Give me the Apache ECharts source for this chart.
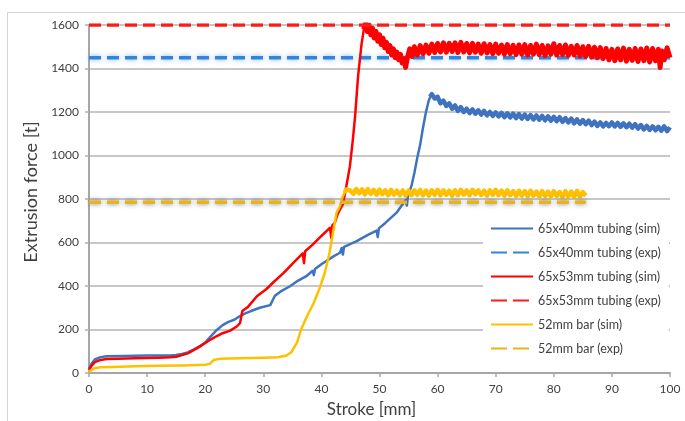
<!DOCTYPE html>
<html>
<head>
<meta charset="utf-8">
<script src="https://cdn.jsdelivr.net/npm/echarts@6/dist/echarts.min.js"></script>
<style>
  html, body { margin: 0; padding: 0; background: #fff; }
  #chart { width: 685px; height: 421px; }
</style>
</head>
<body>
<div id="chart"></div>
<script>
// [stroke mm, force t]
var tube40Rise = [
  [0,20],[0.5,45],[1,62],[2,73],[3,77],[6,78],[10,80],[14,80],[15,83],[16,88],[17,95],[18,108],[19,122],
  [20,140],[21,170],[22,198],[23,220],[24,235],[25,245],[26,262],[27,275],[28,286],[29.4,300],[31.2,312],
  [32,355],[33,375],[34.6,399],[36,425],[37.4,445],[38.5,470],[38.7,450],[38.9,478],[40,500],[42,535],
  [43.2,553],[43.5,575],[43.7,545],[43.9,580],[46,605],[48,635],[49.5,655],[49.7,625],[49.9,665],[51,690],
  [52.9,736],[54.5,795],[54.7,770],[54.9,815],[55.5,860],[56,920],[56.5,990],[57,1050],[57.5,1130],
  [58,1200],[58.5,1255],[59,1282]
];
var tube40Tail = [
  [58.7,1270],[59,1282],
  [59.5,1262],[60,1270],[60.5,1240],[61,1252],[61.5,1228],[62,1240],[62.5,1215],[63,1230],[63.5,1205],
  [64,1222],[64.5,1200],[65,1215],[65.5,1195],[66,1212],[66.5,1192],[67,1208],[67.5,1188],[68,1205],
  [68.5,1185],[69,1200],[69.5,1182],[70,1198],[70.5,1180],[71,1196],[71.5,1176],[72,1194],[72.5,1175],
  [73,1192],[73.5,1172],[74,1190],[74.5,1170],[75,1188],[75.5,1168],[76,1186],[76.5,1166],[77,1184],
  [77.5,1165],[78,1182],[78.5,1162],[79,1180],[79.5,1160],[80,1178],[80.5,1158],[81,1176],[81.5,1155],
  [82,1172],[82.5,1152],[83,1170],[83.5,1148],[84,1166],[84.5,1146],[85,1163],[85.5,1144],[86,1160],
  [86.5,1140],[87,1156],[87.5,1136],[88,1152],[88.5,1134],[89,1150],[89.5,1135],[90,1152],[90.5,1134],
  [91,1150],[91.5,1132],[92,1148],[92.5,1130],[93,1146],[93.5,1128],[94,1144],[94.5,1124],[95,1140],
  [95.5,1120],[96,1136],[96.5,1118],[97,1134],[97.5,1116],[98,1132],[98.5,1114],[99,1134],[99.5,1112],
  [100,1130]
];
var tube40Exp = [[0,1450],[100,1450]];

var tube53Rise = [
  [0,15],[0.5,35],[1,50],[2,60],[3,64],[5,66],[8,68],[12,70],[14,72],[15,75],[16,82],[17,90],[18,105],
  [19,120],[20,138],[21,155],[22,170],[23,183],[24.3,195],[25.5,215],[26,230],[26.4,285],[27.4,305],
  [28.9,353],[30.5,385],[31.7,416],[33.5,460],[35.5,515],[36.8,550],[37,505],[37.2,560],[38.5,590],
  [40,630],[41.5,668],[41.7,620],[41.9,680],[42.3,690],[42.8,730],[43.2,752],[43.7,775],[44.3,860],
  [44.9,950],[45.4,1070],[45.8,1180],[46.3,1360],[46.9,1510],[47.3,1580],[47.6,1610]
];
var tube53Tail = [
  [47.3,1580],[47.6,1610],[47.9,1570],
  [48.2,1600],[48.5,1555],[48.8,1585],[49.1,1540],[49.4,1570],[49.7,1525],[50,1555],[50.3,1510],
  [50.6,1540],[50.9,1495],[51.2,1520],[51.5,1478],[51.8,1505],[52.1,1462],[52.4,1490],[52.7,1450],
  [53,1475],[53.3,1440],[53.6,1465],[53.9,1425],[54.2,1445],[54.5,1405],[54.8,1450],[55.2,1490],
  [55.6,1455],[56,1500],[56.5,1462],[57,1505],[57.5,1468],[58,1508],[58.5,1470],[59,1512],[59.5,1474],
  [60,1515],[60.5,1476],[61,1518],[61.5,1475],[62,1516],[62.5,1478],[63,1518],[63.5,1474],[64,1520],
  [64.5,1476],[65,1515],[65.5,1472],[66,1516],[66.5,1475],[67,1512],[67.5,1470],[68,1514],[68.5,1472],
  [69,1510],[69.5,1468],[70,1512],[70.5,1470],[71,1508],[71.5,1466],[72,1510],[72.5,1468],[73,1506],
  [73.5,1464],[74,1508],[74.5,1466],[75,1510],[75.5,1462],[76,1506],[76.5,1466],[77,1512],[77.5,1464],
  [78,1506],[78.5,1460],[79,1504],[79.5,1466],[80,1514],[80.5,1462],[81,1506],[81.5,1464],[82,1508],
  [82.5,1460],[83,1502],[83.5,1462],[84,1506],[84.5,1458],[85,1500],[85.5,1456],[86,1502],[86.5,1452],
  [87,1498],[87.5,1450],[88,1496],[88.5,1446],[89,1492],[89.5,1440],[90,1488],[90.5,1436],[91,1490],
  [91.5,1440],[92,1494],[92.5,1434],[93,1488],[93.5,1438],[94,1492],[94.5,1432],[95,1490],[95.5,1436],
  [96,1494],[96.5,1430],[97,1492],[97.5,1436],[98,1488],[98.3,1405],[98.6,1480],[99,1440],[99.5,1495],
  [100,1450]
];
var tube53Exp = [[0,1600],[100,1600]];

var bar52Rise = [
  [0,5],[0.5,15],[1,22],[2,26],[4,28],[8,31],[12,33],[16,35],[20,38],[20.8,42],[21.5,60],[22.5,66],
  [26,68],[30,70],[32.5,72],[34,80],[34.8,95],[35.8,140],[36.5,200],[37.5,260],[38.7,323],[39.7,390],
  [40.6,462],[41.4,553],[42,645],[42.6,736],[43.2,767],[43.7,813],[44.3,844]
];
var bar52Tail = [
  [44,830],[44.3,844],
  [45,838],[45.5,824],[46,846],[46.5,826],[47,844],[47.5,822],[48,845],[48.5,824],[49,842],[49.5,820],
  [50,843],[50.5,822],[51,840],[51.5,818],[52,842],[52.5,820],[53,838],[53.5,818],[54,840],[54.5,816],
  [55,838],[55.5,818],[56,840],[56.5,820],[57,842],[57.5,818],[58,838],[58.5,816],[59,840],[59.5,820],
  [60,842],[60.5,818],[61,840],[61.5,820],[62,838],[62.5,816],[63,840],[63.5,818],[64,842],[64.5,820],
  [65,840],[65.5,818],[66,842],[66.5,822],[67,840],[67.5,818],[68,838],[68.5,816],[69,840],[69.5,820],
  [70,842],[70.5,818],[71,838],[71.5,816],[72,840],[72.5,818],[73,836],[73.5,814],[74,838],[74.5,816],
  [75,836],[75.5,814],[76,838],[76.5,816],[77,834],[77.5,812],[78,836],[78.5,814],[79,834],[79.5,812],
  [80,836],[80.5,814],[81,832],[81.5,810],[82,836],[82.5,812],[83,834],[83.5,810],[84,838],[84.5,812],
  [85,832],[85.5,815]
];
var bar52Exp = [[0,785],[85.5,785]];

var seriesNames = [
  '65x40mm tubing (sim)', '65x40mm tubing (exp)',
  '65x53mm tubing (sim)', '65x53mm tubing (exp)',
  '52mm bar (sim)', '52mm bar (exp)'
];

var textColor = '#404040';
var fontFamily = 'Lato, "Liberation Sans", sans-serif';

var chart = echarts.init(document.getElementById('chart'));

function simLine(name, data, color, width) {
  return {
    name: name,
    type: 'line',
    data: data,
    symbol: 'none',
    color: color,
    lineStyle: { color: color, width: width, join: 'round' }
  };
}

function expLine(name, data, color, glow) {
  return {
    name: name,
    type: 'line',
    data: data,
    symbol: 'none',
    color: color,
    lineStyle: {
      color: color,
      width: 3.5,
      type: [12, 6],
      shadowColor: glow,
      shadowBlur: glow ? 5 : 0
    }
  };
}

chart.setOption({
  backgroundColor: '#fff',
  animation: false,
  textStyle: { fontFamily: fontFamily },
  graphic: [{
    type: 'rect',
    shape: { x: 7.5, y: 12.5, width: 720, height: 440 },
    style: { fill: 'none', stroke: '#d4d4d4', lineWidth: 1 },
    silent: true
  }],
  grid: {
    left: 89,
    right: 15,
    top: 25,
    bottom: 48,
    outerBoundsMode: 'none'
  },
  legend: {
    orient: 'vertical',
    left: 483,
    top: 212,
    padding: [10, 8, 10, 7],
    backgroundColor: '#fff',
    itemWidth: 42,
    itemHeight: 14,
    itemGap: 11,
    itemTextGap: 7,
    itemStyle: { opacity: 0 },
    textStyle: { color: textColor, fontSize: 12.5, fontFamily: fontFamily },
    data: [
      { name: seriesNames[0] },
      { name: seriesNames[1], lineStyle: { type: [16, 6], shadowBlur: 0 } },
      { name: seriesNames[2] },
      { name: seriesNames[3], lineStyle: { type: [16, 6], shadowBlur: 0 } },
      { name: seriesNames[4] },
      { name: seriesNames[5], lineStyle: { type: [16, 6], shadowBlur: 0 } }
    ]
  },
  xAxis: {
    type: 'value',
    min: 0,
    max: 100,
    interval: 10,
    name: 'Stroke [mm]',
    nameLocation: 'middle',
    nameGap: 28,
    nameTextStyle: { color: textColor, fontSize: 17, padding: [0, 16, 0, 0] },
    axisLine: { show: true, lineStyle: { color: '#a6a6a6', width: 2 } },
    axisTick: { show: true, length: 4, lineStyle: { color: '#a6a6a6', width: 1.5 } },
    axisLabel: { color: textColor, fontSize: 12, margin: 10 },
    splitLine: { show: false }
  },
  yAxis: {
    type: 'value',
    min: 0,
    max: 1600,
    interval: 200,
    name: 'Extrusion force [t]',
    nameLocation: 'middle',
    nameGap: 30,
    nameTextStyle: { color: textColor, fontSize: 18, padding: [0, 0, 0, 14] },
    axisLine: { show: true, lineStyle: { color: '#a6a6a6', width: 2 } },
    axisTick: { show: true, length: 4, lineStyle: { color: '#b0b0b0', width: 1.5 } },
    axisLabel: {
      color: textColor,
      fontSize: 12,
      margin: 10,
      formatter: function (v) { return String(v); }
    },
    splitLine: { show: true, lineStyle: { color: '#b4b4b4', width: 1.5 } }
  },
  series: [
    simLine(seriesNames[0], tube40Rise, '#3f73bf', 2.5),
    simLine(seriesNames[0], tube40Tail, '#3f73bf', 4.5),
    expLine(seriesNames[1], tube40Exp, '#2f86dc', 'rgba(120,170,235,0.9)'),
    simLine(seriesNames[2], tube53Rise, '#ff0000', 2.5),
    simLine(seriesNames[2], tube53Tail, '#ff0000', 5),
    expLine(seriesNames[3], tube53Exp, '#ff1a1a', null),
    simLine(seriesNames[4], bar52Rise, '#ffc000', 2.5),
    simLine(seriesNames[4], bar52Tail, '#ffc000', 4.5),
    expLine(seriesNames[5], bar52Exp, '#e8b41a', 'rgba(110,110,110,0.9)')
  ]
});
</script>
</body>
</html>
